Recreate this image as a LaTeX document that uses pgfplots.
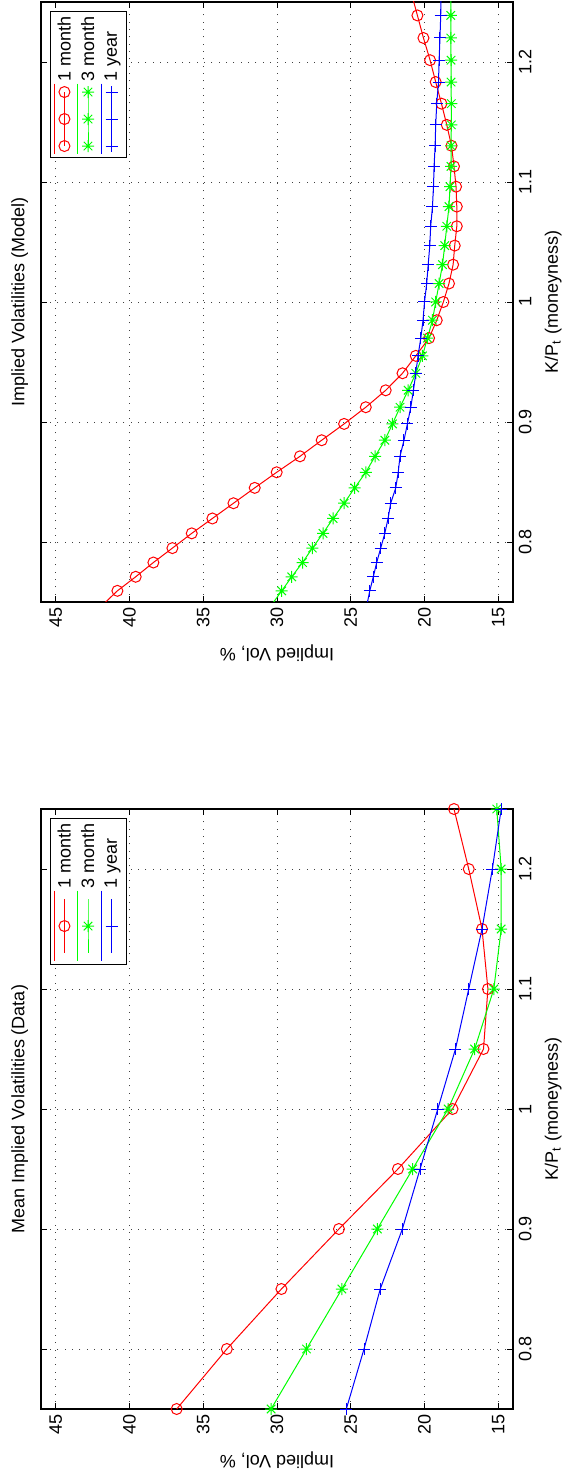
\documentclass[border=0pt]{standalone}
\usepackage{fontspec}
\setmainfont{Liberation Sans}
\usepackage{graphicx}
\usepackage{pgfplots}
\pgfplotsset{compat=1.18}
\usepackage{pgfplotstable}

\pgfplotstableread{
m    r     g     b
0.75 36.8  30.4  25.3
0.80 33.4  28.0  24.1
0.85 29.7  25.6  23.0
0.90 25.8  23.2  21.5
0.95 21.8  20.8  20.3
1.00 18.1  18.4  19.1
1.05 16.0  16.6  17.9
1.10 15.7  15.3  17.0
1.15 16.1  14.8  16.1
1.20 17.0  14.8  15.4
1.25 18.0  15.1  14.8
}\datatab

\pgfplotstableread{
m      r      g      b
0.7478 41.80  30.35  23.90
0.7593 40.82  29.68  23.71
0.7710 39.58  29.00  23.47
0.7829 38.38  28.27  23.24
0.7949 37.09  27.60  22.97
0.8072 35.78  26.88  22.69
0.8196 34.38  26.20  22.47
0.8323 32.95  25.45  22.29
0.8451 31.51  24.73  21.95
0.8581 30.02  23.98  21.78
0.8714 28.44  23.35  21.66
0.8848 26.97  22.69  21.39
0.8984 25.45  22.17  21.16
0.9123 23.98  21.66  20.93
0.9264 22.63  21.11  20.75
0.9406 21.49  20.59  20.59
0.9551 20.59  20.14  20.44
0.9699 19.69  19.80  20.25
0.9848 19.17  19.46  20.10
1.0000 18.72  19.24  20.00
1.0154 18.34  19.01  19.85
1.0311 18.06  18.78  19.75
1.0470 17.95  18.63  19.64
1.0631 17.81  18.49  19.58
1.0795 17.81  18.34  19.46
1.0961 17.86  18.27  19.39
1.1130 18.00  18.20  19.35
1.1302 18.17  18.20  19.28
1.1476 18.49  18.18  19.24
1.1653 18.85  18.18  19.17
1.1833 19.24  18.20  19.05
1.2015 19.62  18.20  19.01
1.2200 20.07  18.22  18.95
1.2388 20.48  18.22  18.90
1.2579 20.90  18.22  18.87
}\modeltab

\definecolor{mred}{rgb}{1,0,0}
\definecolor{mgreen}{rgb}{0,1,0}
\definecolor{mblue}{rgb}{0,0,1}

% MATLAB-style eight-armed asterisk
\pgfdeclareplotmark{mstar}{%
  \pgfpathmoveto{\pgfqpoint{-\pgfplotmarksize}{0pt}}%
  \pgfpathlineto{\pgfqpoint{\pgfplotmarksize}{0pt}}%
  \pgfpathmoveto{\pgfqpoint{0pt}{-\pgfplotmarksize}}%
  \pgfpathlineto{\pgfqpoint{0pt}{\pgfplotmarksize}}%
  \pgfpathmoveto{\pgfqpoint{-0.707\pgfplotmarksize}{-0.707\pgfplotmarksize}}%
  \pgfpathlineto{\pgfqpoint{0.707\pgfplotmarksize}{0.707\pgfplotmarksize}}%
  \pgfpathmoveto{\pgfqpoint{-0.707\pgfplotmarksize}{0.707\pgfplotmarksize}}%
  \pgfpathlineto{\pgfqpoint{0.707\pgfplotmarksize}{-0.707\pgfplotmarksize}}%
  \pgfusepathqstroke}

\newcommand{\tfont}{\fontsize{10.8}{12}\selectfont}
\newcommand{\legtext}[1]{\rotatebox{90}{\rule[-2.5pt]{0pt}{7.8pt}#1}}

\pgfplotsset{
  mstyle/.style={
    scale only axis, width=283.2pt, height=360pt,
    xmin=14, xmax=46, x dir=reverse,
    ymin=0.75, ymax=1.25,
    xtick={15,20,25,30,35,40,45},
    xticklabels={15,20,25,30,35,40,45},
    ytick={0.8,0.9,1,1.1,1.2},
    yticklabels={0.8,0.9,1,1.1,1.2},
    tick align=inside,
    yticklabel pos=right,
    xtick pos=both, ytick pos=both,
    major tick length=3.6pt,
    axis line style={line width=0.7pt},
    every tick/.style={black, line width=0.5pt},
    grid=major,
    major grid style={black!75, line width=0.5pt, dash pattern=on 0.5pt off 3.9pt},
    xticklabel style={rotate=90, anchor=east, font=\tfont},
    yticklabel style={rotate=90, anchor=north, font=\tfont},
    every axis x label/.style={at={(axis description cs:0.5,-0.085)}, rotate=180, anchor=center, font=\tfont},
    every axis y label/.style={at={(axis description cs:1.085,0.5)}, rotate=90, anchor=center, font=\tfont},
    every axis title/.style={at={(axis description cs:-0.045,0.5)}, rotate=90, anchor=center, font=\tfont},
    xlabel={Implied Vol, \%},
    ylabel={K/P\textsubscript{t} (moneyness)},
    legend columns=-1,
    legend image code/.code={%
      \path (0pt,0pt) -- (0pt,-42pt);
      \begin{scope}[overlay]
      \draw[mark repeat=2,mark phase=2] plot coordinates {(6.1pt,-5pt) (6.1pt,-21.2pt) (6.1pt,-37.4pt)};
      \end{scope}},
    legend style={at={(axis description cs:0.019,0.985)}, anchor=north west,
      nodes={inner sep=1pt, text depth=},
      cells={anchor=south west},
      draw=black, line width=0.6pt, fill=white, font=\tfont,
      inner sep=2pt, column sep=0.6pt, row sep=0pt},
  },
  redp/.style={color=mred, line width=0.6pt, mark=o, mark size=3.3pt, mark options={solid, line width=0.6pt}},
  greenp/.style={color=mgreen, line width=0.6pt, mark=mstar, mark size=3.6pt, mark options={solid, line width=0.6pt}},
  bluep/.style={color=mblue, line width=0.6pt, mark=+, mark size=3.6pt, mark options={solid, line width=0.6pt}},
}

\begin{document}
\begin{tikzpicture}
\path[use as bounding box] (0pt,0pt) rectangle (339pt,883.2pt);

% Top panel (Model)
\begin{axis}[mstyle, at={(24.6pt,522pt)}, anchor=south west,
  title={Implied Volatilities (Model)}]
\addplot[redp, mark indices={1,...,33}] table[x=r, y=m] {\modeltab};
\addlegendentry{\legtext{1 month}}
\addplot[greenp, mark indices={1,...,33}] table[x=g, y=m] {\modeltab};
\addlegendentry{\legtext{3 month}}
\addplot[bluep, mark indices={1,...,33}] table[x=b, y=m] {\modeltab};
\addlegendentry{\legtext{1 year}}
\end{axis}

% Bottom panel (Data)
\begin{axis}[mstyle, at={(24.6pt,37.8pt)}, anchor=south west,
  title={Mean Implied Volatilities (Data)}]
\addplot[redp] table[x=r, y=m] {\datatab};
\addlegendentry{\legtext{1 month}}
\addplot[greenp] table[x=g, y=m] {\datatab};
\addlegendentry{\legtext{3 month}}
\addplot[bluep] table[x=b, y=m] {\datatab};
\addlegendentry{\legtext{1 year}}
\end{axis}
\end{tikzpicture}
\end{document}
